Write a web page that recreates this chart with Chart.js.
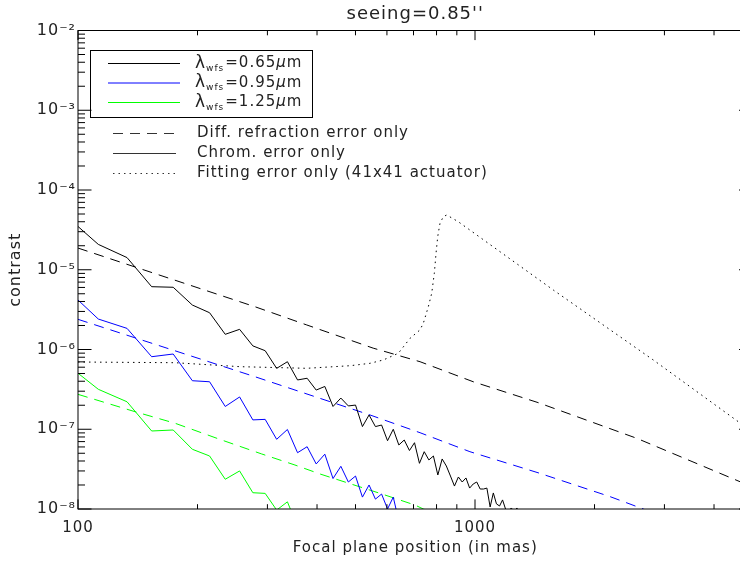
<!DOCTYPE html>
<html lang="en">
<head>
<meta charset="UTF-8">
<title>seeing=0.85''</title>
<script src="https://cdn.jsdelivr.net/npm/chart.js"></script>
<style>
  html, body { margin: 0; padding: 0; overflow: hidden; background: #fff; }
  #wrap { width: 740px; height: 561px; overflow: hidden; }
</style>
</head>
<body>
<div id="wrap"><canvas id="contrastChart" width="754" height="561"></canvas></div>
<script>
// focal plane positions (mas) of the simulated profiles
const xGrid = [92.1, 112.5, 132.9, 153.3, 173.7, 194.1, 214.5, 234.9, 255.3, 275.7,
  296.1, 316.5, 336.9, 357.3, 377.7, 398.1, 418.5, 438.9, 459.3, 479.7,
  500.1, 520.5, 540.9, 561.3, 581.7, 602.1, 622.5, 642.9, 663.3, 683.7,
  704.1, 724.5, 744.9, 765.3, 785.7, 806.1, 826.5, 846.9, 867.3, 887.7,
  908.1, 928.5, 948.9, 969.3, 989.7, 1010.1, 1030.5, 1050.9, 1071.3, 1091.7,
  1112.1, 1132.5, 1152.9, 1173.3, 1193.7, 1214.1, 1234.5, 1254.9, 1275.3, 1295.7];

// chromatic error only (solid)
const chrom065 = [5.0e-5, 2.08e-5, 1.42e-5, 6.13e-6, 6.03e-6, 3.61e-6, 2.89e-6, 1.55e-6, 1.79e-6, 1.11e-6,
  9.66e-7, 5.80e-7, 7.03e-7, 4.15e-7, 4.36e-7, 3.10e-7, 3.44e-7, 1.93e-7, 2.46e-7, 1.96e-7,
  2.01e-7, 1.08e-7, 1.51e-7, 1.08e-7, 1.13e-7, 7.18e-8, 1.0e-7, 6.35e-8, 7.33e-8, 5.41e-8,
  6.78e-8, 3.74e-8, 5.23e-8, 4.12e-8, 4.62e-8, 2.67e-8, 4.24e-8, 3.46e-8, 2.59e-8, 1.94e-8,
  2.52e-8, 2.18e-8, 2.45e-8, 1.83e-8, 2.06e-8, 2.18e-8, 1.78e-8, 1.78e-8, 1.83e-8, 1.06e-8,
  1.59e-8, 1.16e-8, 1.09e-8, 1.30e-8, 1.0e-8, 9.4e-9, 1.03e-8, 9.2e-9, 1.03e-8, 8.6e-9];
const chrom095 = [6.13e-6, 2.41e-6, 1.84e-6, 8.12e-7, 8.78e-7, 4.06e-7, 3.94e-7, 1.93e-7, 2.54e-7, 1.31e-7,
  1.33e-7, 7.48e-8, 9.93e-8, 5.08e-8, 6.04e-8, 3.67e-8, 4.87e-8, 2.41e-8, 3.43e-8, 2.18e-8,
  2.59e-8, 1.41e-8, 2.0e-8, 1.33e-8, 1.54e-8, 1.0e-8, 1.41e-8, 7e-9];
const chrom125 = [6.97e-7, 3.17e-7, 2.21e-7, 9.51e-8, 9.79e-8, 5.61e-8, 4.62e-8, 2.36e-8, 3.00e-8, 1.60e-8,
  1.57e-8, 9.7e-9, 1.23e-8, 6e-9];

// differential refraction error only (dashed)
const refr065X = [100, 279, 377, 554, 727, 990, 1441, 2555, 4650, 5000];
const refr065Y = [1.87e-5, 3.44e-6, 2.03e-6, 1.04e-6, 7.03e-7, 3.94e-7, 2.16e-7, 7.70e-8, 2.20e-8, 1.9e-8];
const refr095X = [100, 279, 544, 727, 971, 1441, 2188, 2654, 3000];
const refr095Y = [2.39e-6, 4.56e-7, 1.51e-7, 9.05e-8, 5.23e-8, 2.85e-8, 1.43e-8, 1.0e-8, 8.0e-9];
const refr125X = [100, 139.2, 175.5, 230.1, 290.2, 352, 406.9, 576.5, 706.3, 741, 1000];
const refr125Y = [2.74e-7, 1.66e-7, 1.19e-7, 7.33e-8, 4.9e-8, 3.56e-8, 2.75e-8, 1.57e-8, 1.12e-8, 1.0e-8, 6.0e-9];

// fitting error only, 41x41 actuators (dotted)
const fitX = [100, 175.5, 255.9, 376.9, 484.4, 543.8, 587.5, 640.9, 686, 726.7, 741, 762.8, 778, 789.8,
  797.7, 805.5, 816.2, 832.1, 848.6, 907.7, 1575, 2812, 4650, 5000];
const fitY = [6.97e-7, 6.83e-7, 6.09e-7, 5.81e-7, 6.26e-7, 6.71e-7, 7.39e-7, 8.96e-7, 1.38e-6, 1.76e-6,
  2.13e-6, 3.44e-6, 5.07e-6, 9.03e-6, 1.61e-5, 2.60e-5, 3.82e-5, 4.63e-5, 4.86e-5, 4.00e-5,
  5.57e-6, 7.39e-7, 1.20e-7, 9.3e-8];

const xTicks = [100, 1000];
const yTicks = [1e-8, 1e-7, 1e-6, 1e-5, 1e-4, 1e-3, 1e-2];

const wfsLabels = ['0.65', '0.95', '1.25'];
const wfsColors = ['#000000', '#0000ff', '#00ff00'];
const errorLabels = ['Diff. refraction error only', 'Chrom. error only', 'Fitting error only (41x41 actuator)'];

const FONT = '"DejaVu Sans", sans-serif';
const DASH = [10, 7];
const DOT = [1.5, 4];

function pts(xs, ys) {
  return ys.map((y, i) => ({ x: xs[i], y: y }));
}

function line(data, color, dash) {
  return { data: data, borderColor: color, borderWidth: 1, borderDash: dash,
    pointRadius: 0, showLine: true, fill: false, tension: 0 };
}

const SUP = { '-': '\u207B', '0': '\u2070', '1': '\u00B9', '2': '\u00B2', '3': '\u00B3',
  '4': '\u2074', '5': '\u2075', '6': '\u2076', '7': '\u2077', '8': '\u2078', '9': '\u2079' };
function powLabel(v) {
  const e = String(Math.round(Math.log10(v)));
  return '10' + e.split('').map(c => SUP[c]).join('');
}

// the IDL font is spaced wider than DejaVu
const wideText = {
  id: 'wideText',
  beforeDraw(chart) { chart.ctx.letterSpacing = '1px'; },
  afterDraw(chart) { chart.ctx.letterSpacing = '0px'; }
};

// IDL style frame: inward ticks on all four sides
const axesFrame = {
  id: 'axesFrame',
  afterDraw(chart) {
    const { ctx, chartArea: a, scales: { x, y } } = chart;
    ctx.save();
    ctx.strokeStyle = '#000';
    ctx.lineWidth = 1;
    ctx.strokeRect(a.left, a.top, a.right - a.left, a.bottom - a.top);
    ctx.beginPath();
    for (let e = -8; e <= -2; e++) {
      for (let m = 1; m <= 9; m++) {
        const v = m * Math.pow(10, e);
        if (v > 1.0001e-2) break;
        const py = y.getPixelForValue(v);
        const len = m === 1 ? 13.5 : 7;
        ctx.moveTo(a.left, py); ctx.lineTo(a.left + len, py);
        ctx.moveTo(a.right, py); ctx.lineTo(a.right - len, py);
      }
    }
    for (let e = 2; e <= 3; e++) {
      for (let m = 1; m <= 9; m++) {
        const v = m * Math.pow(10, e);
        if (v > 5000) break;
        const px = x.getPixelForValue(v);
        const len = m === 1 ? 9.6 : 4.8;
        ctx.moveTo(px, a.bottom); ctx.lineTo(px, a.bottom - len);
        ctx.moveTo(px, a.top); ctx.lineTo(px, a.top + len);
      }
    }
    ctx.stroke();
    ctx.restore();
  }
};

const legendBox = {
  id: 'legendBox',
  afterDraw(chart) {
    const ctx = chart.ctx;
    ctx.save();
    ctx.letterSpacing = '1px';
    ctx.strokeStyle = '#000';
    ctx.lineWidth = 1;
    ctx.strokeRect(90.5, 50.5, 222, 67);
    ctx.textBaseline = 'middle';
    ctx.fillStyle = '#222';
    wfsLabels.forEach((lab, i) => {
      const ly = 63.5 + i * 19.5;
      ctx.strokeStyle = wfsColors[i];
      ctx.beginPath(); ctx.moveTo(108, ly); ctx.lineTo(180, ly); ctx.stroke();
      let tx = 195;
      ctx.font = '17px ' + FONT;
      ctx.fillText('\u03BB', tx, ly);
      tx += ctx.measureText('\u03BB').width;
      ctx.font = '9px ' + FONT;
      ctx.fillText('wfs', tx, ly + 5);
      tx += ctx.measureText('wfs').width + 1;
      ctx.font = '15px ' + FONT;
      ctx.fillText('=' + lab, tx, ly);
      tx += ctx.measureText('=' + lab).width;
      ctx.font = 'italic 15px ' + FONT;
      ctx.fillText('\u03BC', tx, ly);
      tx += ctx.measureText('\u03BC').width;
      ctx.font = '15px ' + FONT;
      ctx.fillText('m', tx, ly);
    });
    const styles = [DASH, [], DOT];
    errorLabels.forEach((lab, i) => {
      const ly = 133.5 + i * 20;
      ctx.strokeStyle = '#333';
      ctx.setLineDash(styles[i]);
      ctx.beginPath(); ctx.moveTo(113, ly); ctx.lineTo(176, ly); ctx.stroke();
      ctx.setLineDash([]);
      ctx.font = '15px ' + FONT;
      ctx.fillText(lab, 197, ly);
    });
    ctx.restore();
  }
};

Chart.defaults.font.family = FONT;
Chart.defaults.color = '#222';

new Chart(document.getElementById('contrastChart'), {
  type: 'scatter',
  data: {
    datasets: [
      line(pts(xGrid, chrom065), '#000000', []),
      line(pts(xGrid, chrom095), '#0000ff', []),
      line(pts(xGrid, chrom125), '#00ff00', []),
      line(pts(refr065X, refr065Y), '#000000', DASH),
      line(pts(refr095X, refr095Y), '#0000ff', DASH),
      line(pts(refr125X, refr125Y), '#00ff00', DASH),
      line(pts(fitX, fitY), '#000000', DOT)
    ]
  },
  options: {
    responsive: false,
    animation: false,
    layout: { padding: { left: 0, right: 1.5, top: 0, bottom: 0 } },
    plugins: {
      legend: { display: false },
      tooltip: { enabled: false },
      title: {
        display: true,
        text: "seeing=0.85''",
        fullSize: false,
        color: '#222',
        font: { size: 18, weight: 'normal' },
        padding: { top: 4, bottom: 4.9 }
      }
    },
    scales: {
      x: {
        type: 'logarithmic',
        min: 100,
        max: 5000,
        afterBuildTicks: axis => { axis.ticks = xTicks.map(v => ({ value: v })); },
        afterFit: scale => { scale.height = 52; },
        ticks: { callback: v => String(v), font: { size: 15 }, padding: 10, maxRotation: 0, autoSkip: false },
        grid: { display: false, drawTicks: false },
        border: { display: false },
        title: { display: true, text: 'Focal plane position (in mas)', font: { size: 15 }, padding: { top: 0, bottom: 4 } }
      },
      y: {
        type: 'logarithmic',
        min: 1e-8,
        max: 1e-2,
        afterBuildTicks: axis => { axis.ticks = yTicks.map(v => ({ value: v })); },
        afterFit: scale => { scale.width = 78; },
        ticks: { callback: v => powLabel(v), font: { size: 16 }, padding: 2, autoSkip: false },
        grid: { display: false, drawTicks: false },
        border: { display: false },
        title: { display: true, text: 'contrast', font: { size: 16 }, padding: { top: 6, bottom: 0 } }
      }
    }
  },
  plugins: [wideText, axesFrame, legendBox]
});
</script>
</body>
</html>
